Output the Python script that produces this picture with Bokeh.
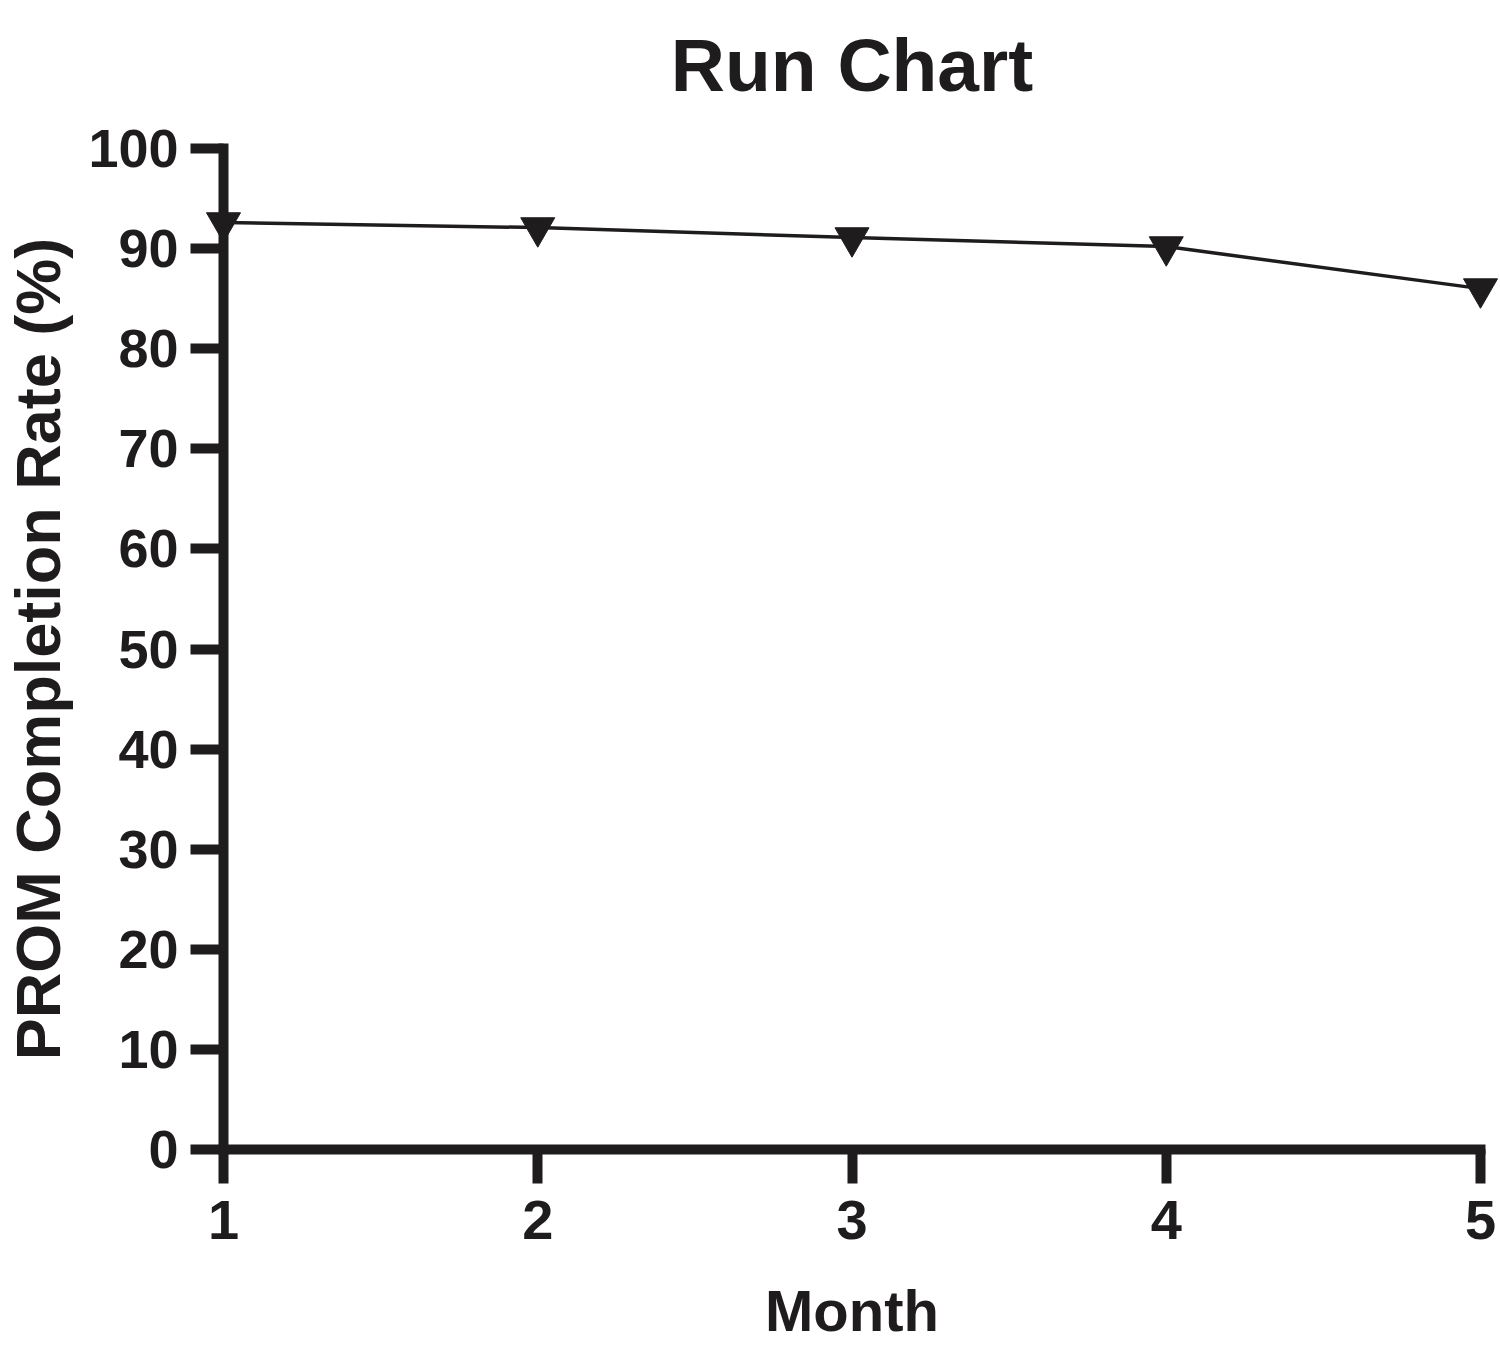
from bokeh.plotting import figure
from bokeh.models import Range1d, FixedTicker
from bokeh.core.properties import value
from bokeh.embed import file_html
from bokeh.resources import INLINE

# ---- data ----
months = [1, 2, 3, 4, 5]
rates = [92.6, 92.1, 91.1, 90.2, 86.0]
x_ticks = [1, 2, 3, 4, 5]
y_ticks = [0, 10, 20, 30, 40, 50, 60, 70, 80, 90, 100]
chart_title = "Run Chart"

INK = "#1f1c1d"
FONT = "Liberation Sans"

p = figure(width=1500, height=1345, output_backend="svg", toolbar_location=None,
           x_range=Range1d(x_ticks[0], x_ticks[-1]), y_range=Range1d(y_ticks[0], y_ticks[-1]))

p.min_border_left = 150
p.min_border_right = 20
p.min_border_top = 148
p.min_border_bottom = 150
p.grid.visible = False
p.outline_line_color = None
p.background_fill_color = "white"
p.border_fill_color = "white"

for ax in (p.xaxis[0], p.yaxis[0]):
    ax.axis_line_width = 10
    ax.axis_line_color = INK
    ax.axis_line_cap = "square"
    ax.major_tick_line_width = 10
    ax.major_tick_line_color = INK
    ax.major_tick_in = 0
    ax.minor_tick_line_color = None
    ax.major_label_text_font = FONT
    ax.major_label_text_font_style = "bold"
    ax.major_label_text_color = INK
    ax.axis_label_text_font = FONT
    ax.axis_label_text_font_style = "bold"
    ax.axis_label_text_color = INK

p.xaxis[0].ticker = FixedTicker(ticks=x_ticks)
p.yaxis[0].ticker = FixedTicker(ticks=y_ticks)
p.xaxis[0].bounds = (x_ticks[0], x_ticks[-1])
p.yaxis[0].bounds = (y_ticks[0], y_ticks[-1])
p.xaxis[0].major_tick_out = 34
p.yaxis[0].major_tick_out = 33
p.xaxis[0].major_label_text_font_size = "56px"
p.yaxis[0].major_label_text_font_size = "54px"
p.xaxis[0].major_label_standoff = 17
p.yaxis[0].major_label_standoff = 12

p.xaxis[0].axis_label = "Month"
p.xaxis[0].axis_label_text_font_size = "58px"
p.xaxis[0].axis_label_standoff = 36
p.yaxis[0].axis_label = "PROM Completion Rate (%)"
p.yaxis[0].axis_label_text_font_size = "63px"
p.yaxis[0].axis_label_standoff = 12

p.line(months, rates, line_color=INK, line_width=3.5)
p.scatter(months, rates, marker="inverted_triangle", size=34,
          fill_color=INK, line_color=INK, level="overlay")

# chart title, centred over the month axis, above the plotting frame
p.text(x=[(x_ticks[0] + x_ticks[-1]) / 2], y=[y_ticks[-1] + 8.3], text=[chart_title],
       text_align="center", text_baseline="alphabetic",
       text_font=value(FONT), text_font_style="bold", text_font_size="75px",
       text_color=INK, level="overlay")

open("out.html", "w").write(file_html(p, INLINE))
